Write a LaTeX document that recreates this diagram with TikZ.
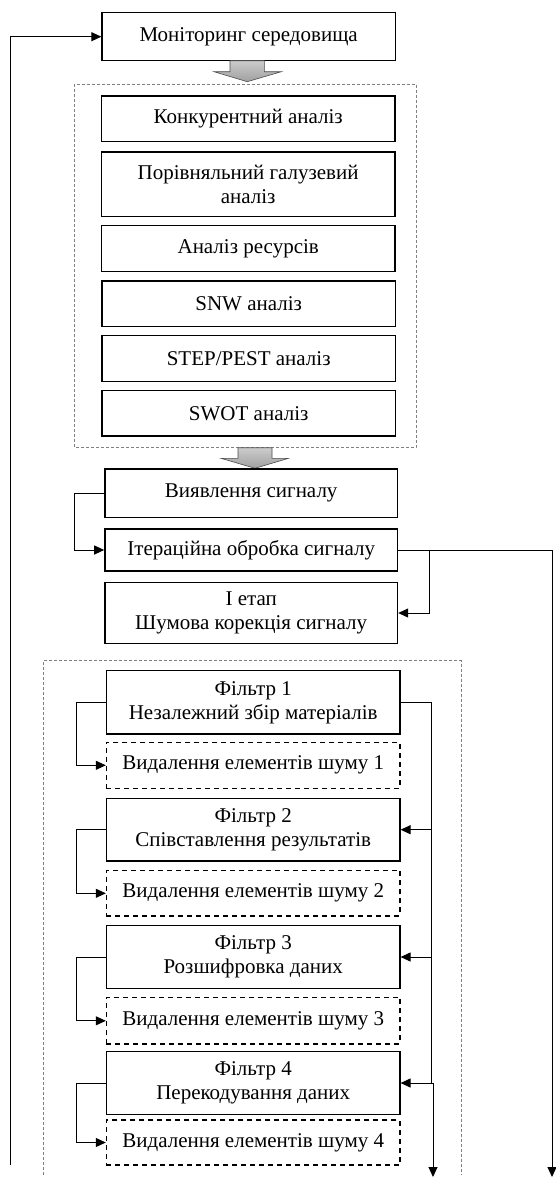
\documentclass[tikz,border=0pt]{standalone}
\usepackage{fontspec}
\setmainfont{Liberation Serif}
\usetikzlibrary{arrows.meta}
\tikzset{
  box/.style={draw, line width=1.3pt, align=center, inner sep=0pt, font=\fontsize{21}{24}\selectfont},
  noisebox/.style={box, dash pattern=on 5pt off 4pt},
  frame/.style={draw=gray, line width=0.7pt, dash pattern=on 3pt off 2pt},
  line/.style={line width=1pt},
  arr/.style={line width=1pt, -{Triangle[length=10pt,width=9pt]}},
  fatarrow/.style={draw=gray!60!black, line width=0.6pt, top color=gray!40, bottom color=gray!75}
}
\begin{document}
\begin{tikzpicture}[x=1pt,y=-1pt]
        \useasboundingbox (0,0) rectangle (555,1178);
        \node[box, minimum width=293.4pt, minimum height=48pt] (mon) at (248.7,36.7) {Моніторинг середовища}; %monitoring
        \draw[fatarrow] (230,60.7) -- (264.4,60.7) -- (264.4,71.7) -- (281.4,71.7) -- (247.2,81.7) -- (214,71.7) -- (230,71.7) -- cycle; %big arrow 1
        \draw[frame] (74.3,84.3) rectangle (416,447.7); %analysis group
        \node[box, minimum width=293.5pt, minimum height=45.7pt] (konk) at (248.2,118.8) {Конкурентний аналіз};
        \node[box, minimum width=293.5pt, minimum height=64.7pt] (porivn) at (248.2,184.3) {Порівняльний галузевий\\аналіз};
        \node[box, minimum width=293.5pt, minimum height=46.4pt] (resurs) at (248.2,248.5) {Аналіз ресурсів};
        \node[box, minimum width=293.5pt, minimum height=45.7pt] (snw) at (248.7,303.8) {SNW аналіз};
        \node[box, minimum width=293.5pt, minimum height=46pt] (step) at (248.7,358.7) {STEP/PEST аналіз};
        \node[box, minimum width=293.5pt, minimum height=45.3pt] (swot) at (248.7,413.3) {SWOT аналіз};
        \draw[fatarrow] (238,447.7) -- (272,447.7) -- (272,458.3) -- (288.5,458.3) -- (255,468.3) -- (221,458.3) -- (238,458.3) -- cycle; %big arrow 2
        \node[box, minimum width=292.7pt, minimum height=48.3pt] (vyyav) at (251.2,493.2) {Виявлення сигналу};
        \node[box, minimum width=292.7pt, minimum height=42pt] (iter) at (251.2,550) {Ітераційна обробка сигналу};
        \node[box, minimum width=292.7pt, minimum height=60.6pt] (etap) at (251.2,613) {I етап\\Шумова корекція сигналу};
        \draw[frame] (43.2,1175) -- (43.2,660.7) -- (461,660.7) -- (461,1175); %filter group
        \node[box, minimum width=293.5pt, minimum height=63.3pt] (f1) at (253.2,702.3) {Фільтр 1\\Незалежний збір матеріалів};
        \node[noisebox, minimum width=293.5pt, minimum height=46pt] (v1) at (253.2,765.3) {Видалення елементів шуму 1};
        \node[box, minimum width=293.5pt, minimum height=62.7pt] (f2) at (253.2,829.7) {Фільтр 2\\Співставлення результатів};
        \node[noisebox, minimum width=293.5pt, minimum height=45.3pt] (v2) at (253.2,893.3) {Видалення елементів шуму 2};
        \node[box, minimum width=293.5pt, minimum height=62.6pt] (f3) at (253.2,957) {Фільтр 3\\Розшифровка даних};
        \node[noisebox, minimum width=293.5pt, minimum height=46.3pt] (v3) at (253.2,1020.8) {Видалення елементів шуму 3};
        \node[box, minimum width=293.5pt, minimum height=62.6pt] (f4) at (253.2,1083) {Фільтр 4\\Перекодування даних};
        \node[noisebox, minimum width=293.5pt, minimum height=45pt] (v4) at (253.2,1142.5) {Видалення елементів шуму 4};
        \coordinate (bl) at (10.6,1165);
        \coordinate (br) at (552,1177);
        \coordinate (rj) at (431,1083);
        \coordinate (bm) at (433,1177);
        \draw[arr] (bl) |- (mon.west); %feedback
        \draw[arr] (vyyav.west) -- ++(-30,0) |- (iter.west);
        \draw[arr] (iter.east) -- ++(31.5,0) |- (etap.east);
        \draw[arr] (iter.east) -| (br);
        \draw[arr] (f1.west) -- ++(-29.5,0) |- (v1.west);
        \draw[arr] (f2.west) -- ++(-29.5,0) |- (v2.west);
        \draw[arr] (f3.west) -- ++(-29.5,0) |- (v3.west);
        \draw[arr] (f4.west) -- ++(-29.5,0) |- (v4.west);
        \draw[line] (f1.east) -| (rj);
        \draw[arr] (f2.east -| rj) -- (f2.east);
        \draw[arr] (f3.east -| rj) -- (f3.east);
        \draw[arr] (rj) -- (f4.east);
        \draw[arr] (rj) -| (bm);
    \end{tikzpicture}
\end{document}
